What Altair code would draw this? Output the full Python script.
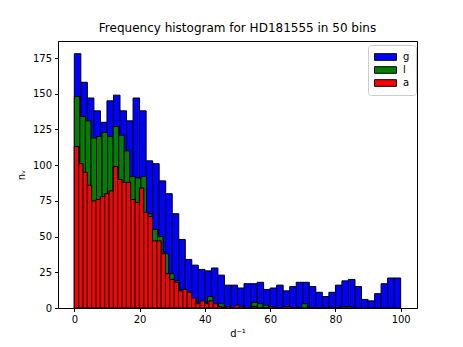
import altair as alt
import pandas as pd

series = ["g", "l", "a"]
colors = ["#0000ff", "#008000", "#ff0000"]

# counts per bin (50 bins each); each series binned over its own range
g_counts = [178, 158, 147, 138, 130, 145, 149, 138, 131, 147,
            138, 103, 101, 89, 80, 66, 48, 34, 30, 27,
            26, 28, 23, 16, 16, 14, 17, 17, 18, 13,
            14, 16, 12, 15, 18, 18, 15, 11, 8, 11,
            16, 19, 20, 15, 6, 5, 10, 17, 21, 21]
l_counts = [148, 134, 131, 119, 120, 123, 120, 127, 121, 110,
            92, 91, 92, 66, 55, 50, 38, 24, 19, 13,
            10, 6, 3, 4, 8, 2, 3, 1, 0, 0,
            0, 0, 4, 3, 2, 0, 0, 0, 0, 0,
            0, 3, 0, 0, 0, 0, 0, 0, 1, 1]
a_counts = [113, 101, 95, 86, 75, 76, 78, 80, 82, 99,
            90, 88, 88, 76, 74, 84, 67, 64, 47, 47,
            38, 24, 20, 18, 12, 13, 11, 7, 3, 5,
            3, 5, 3, 1, 0, 1, 0, 2, 1, 0,
            0, 1, 0, 0, 0, 1, 0, 0, 1, 1]
bin_start = [0.0, 0.0, 0.0]
bin_width = [2.0, 1.7, 1.33]

x_ticks = [0, 20, 40, 60, 80, 100]
y_ticks = [0, 25, 50, 75, 100, 125, 150, 175]

rows = []
for s, counts, start, w in zip(series, [g_counts, l_counts, a_counts], bin_start, bin_width):
    for i, c in enumerate(counts):
        rows.append({"series": s, "x0": start + i * w, "x1": start + (i + 1) * w, "n": c})
df = pd.DataFrame(rows)

chart = alt.Chart(df).mark_rect(stroke="black", strokeWidth=1).encode(
    x=alt.X("x0:Q", scale=alt.Scale(domain=[-5, 105], nice=False, zero=False),
            axis=alt.Axis(values=x_ticks, title="d⁻¹", grid=False, tickSize=3.5,
                          labelFontSize=10, titleFontSize=10, titleFontWeight="normal",
                          labelFont="DejaVu Sans", titleFont="DejaVu Sans",
                          labelColor="black", titleColor="black", tickColor="black",
                          domainColor="black", labelPadding=3, titlePadding=4)),
    x2="x1:Q",
    y=alt.Y("n:Q", scale=alt.Scale(domain=[0, 186.9], nice=False),
            axis=alt.Axis(values=y_ticks, title="nᵥ", grid=False, tickSize=3.5,
                          labelFontSize=10, titleFontSize=10, titleFontWeight="normal",
                          labelFont="DejaVu Sans", titleFont="DejaVu Sans",
                          labelColor="black", titleColor="black", tickColor="black",
                          domainColor="black", labelPadding=3, titlePadding=6)),
    y2=alt.datum(0),
    color=alt.Color("series:N", scale=alt.Scale(domain=series, range=colors), sort=series,
                    legend=alt.Legend(title=None, orient="none", legendX=310, legendY=4,
                                      symbolType="M-1,-0.6L3,-0.6L3,0.6L-1,0.6Z",
                                      symbolSize=121, symbolStrokeColor="black",
                                      symbolStrokeWidth=1, symbolOpacity=1,
                                      labelFontSize=10, labelFont="DejaVu Sans",
                                      labelColor="black",
                                      fillColor="white", strokeColor="#cccccc",
                                      cornerRadius=3, padding=6, rowPadding=1,
                                      labelOffset=17)),
    order=alt.Order("idx:Q"),
).transform_window(idx="row_number()").properties(
    width=359,
    height=267,
    title=alt.TitleParams("Frequency histogram for HD181555 in 50 bins", fontSize=12,
                          font="DejaVu Sans", fontWeight="normal", anchor="middle",
                          offset=6, color="black"),
    autosize=alt.AutoSizeParams(type="none"),
    padding={"left": 50, "top": 33, "right": 38, "bottom": 31},
).configure_view(stroke="black", strokeWidth=1)

chart.save("out.html", embed_options={"renderer": "svg", "actions": False})
